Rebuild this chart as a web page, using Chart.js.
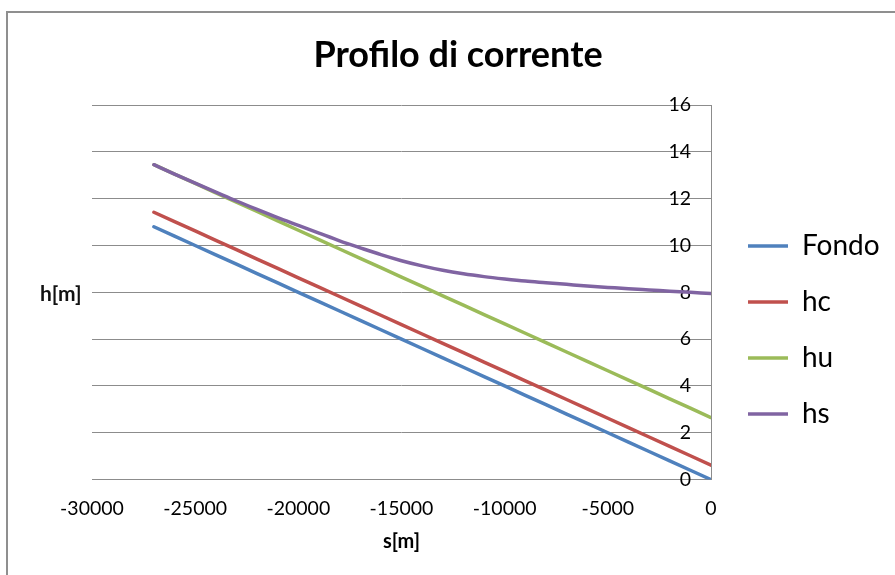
<!DOCTYPE html>
<html>
<head>
<meta charset="utf-8">
<script src="https://cdn.jsdelivr.net/npm/chart.js@4/dist/chart.umd.min.js"></script>
<style>
  html, body { margin: 0; padding: 0; background: #fff; overflow: hidden; }
  #wrap { position: relative; width: 895px; height: 575px; overflow: hidden; }
  #frame { position: absolute; left: 6px; top: 11px; width: 1000px; height: 1000px;
           border-left: 2px solid #8f8f8f; border-top: 2px solid #8f8f8f; box-sizing: border-box; }
  #c { position: absolute; left: 0; top: 0; }
  #ylab { position: absolute; left: 40px; top: 280px; font: bold 21px Lato, sans-serif; color: #111; }
</style>
</head>
<body>
<div id="wrap">
  <div id="frame"></div>
  <canvas id="c" width="895" height="575"></canvas>
  <div id="ylab">h[m]</div>
</div>
<script>
// progressive distance s [m], upstream (negative) to downstream section (0)
const distances = [-27000, -26000, -25000, -24000, -23000, -22000, -21000, -20000, -19000, -18000,
                   -17000, -16000, -15000, -14000, -13000, -12000, -11000, -10000, -9000, -8000,
                   -7000, -6000, -5000, -4000, -3000, -2000, -1000, 0];

// channel bed elevation
const fondo = [10.80, 10.40, 10.00, 9.60, 9.20, 8.80, 8.40, 8.00, 7.60, 7.20,
               6.80, 6.40, 6.00, 5.60, 5.20, 4.80, 4.40, 4.00, 3.60, 3.20,
               2.80, 2.40, 2.00, 1.60, 1.20, 0.80, 0.40, 0.00];

// critical depth line
const hc = [11.42, 11.02, 10.62, 10.22, 9.82, 9.42, 9.02, 8.62, 8.22, 7.82,
            7.42, 7.02, 6.62, 6.22, 5.82, 5.42, 5.02, 4.62, 4.22, 3.82,
            3.42, 3.02, 2.62, 2.22, 1.82, 1.42, 1.02, 0.62];

// uniform (normal) depth line
const hu = [13.45, 13.05, 12.65, 12.25, 11.85, 11.45, 11.05, 10.65, 10.25, 9.85,
            9.45, 9.05, 8.65, 8.25, 7.85, 7.45, 7.05, 6.65, 6.25, 5.85,
            5.45, 5.05, 4.65, 4.25, 3.85, 3.45, 3.05, 2.65];

// computed water surface profile
const hs = [13.45, 13.05, 12.66, 12.28, 11.90, 11.54, 11.19, 10.86, 10.53, 10.20,
            9.90, 9.61, 9.35, 9.13, 8.94, 8.79, 8.67, 8.57, 8.48, 8.41,
            8.34, 8.27, 8.21, 8.15, 8.10, 8.05, 8.00, 7.95];

const xTicks = [-30000, -25000, -20000, -15000, -10000, -5000, 0];
const yTicks = [0, 2, 4, 6, 8, 10, 12, 14, 16];

const seriesNames = ['Fondo', 'hc', 'hu', 'hs'];
const seriesValues = [fondo, hc, hu, hs];
const seriesColors = ['#4F81BD', '#C0504D', '#9BBB59', '#8064A2'];

const GRID = '#8c8c8c';
const FONT = 'Lato';

const datasets = seriesNames.map((name, i) => ({
  label: name,
  data: distances.map((s, k) => ({ x: s, y: seriesValues[i][k] })),
  borderColor: seriesColors[i],
  backgroundColor: seriesColors[i],
  borderWidth: 3.5,
  borderCapStyle: 'round',
  borderJoinStyle: 'round',
  pointRadius: 0,
  fill: false,
  cubicInterpolationMode: name === 'hs' ? 'monotone' : 'default',
  order: seriesNames.length - 1 - i   // later series painted on top
}));

// places the legend block to the right of the plot
const legendPlacer = {
  id: 'legendPlacer',
  afterLayout(chart) {
    const lg = chart.legend;
    if (!lg) return;
    lg.left = 720; lg.right = 895;
    lg.top = 204;  lg.bottom = 575;
  }
};

new Chart(document.getElementById('c'), {
  type: 'line',
  data: { datasets },
  plugins: [legendPlacer],
  options: {
    responsive: false,
    animation: false,
    parsing: false,
    layout: { padding: { left: 92, right: 71, top: 0, bottom: 21 } },
    plugins: {
      title: {
        display: true,
        text: 'Profilo di corrente',
        color: '#000',
        font: { family: FONT, weight: 'bold', size: 36 },
        padding: { top: 33.4, bottom: 28.4 }
      },
      legend: {
        position: 'chartArea',
        align: 'start',
        labels: {
          usePointStyle: true,
          pointStyle: 'line',
          pointStyleWidth: 40,
          padding: 28,
          color: '#000',
          font: { family: FONT, size: 28 },
          sort: (a, b) => a.datasetIndex - b.datasetIndex
        }
      },
      tooltip: { enabled: false }
    },
    scales: {
      x: {
        type: 'linear',
        min: xTicks[0],
        max: xTicks[xTicks.length - 1],
        afterBuildTicks: s => { s.ticks = xTicks.map(v => ({ value: v })); },
        ticks: {
          callback: v => String(v),
          autoSkip: false, maxRotation: 0,
          padding: 17,
          color: '#000',
          font: { family: FONT, size: 19.5 }
        },
        grid: { display: false, drawTicks: false },
        border: { display: true, color: GRID, width: 1 },
        title: {
          display: true, text: 's[m]', color: '#000',
          font: { family: FONT, weight: 'bold', size: 20 },
          padding: { top: -7, bottom: 0 }
        }
      },
      y: {
        position: 'right',
        min: yTicks[0],
        max: yTicks[yTicks.length - 1],
        afterBuildTicks: s => { s.ticks = yTicks.map(v => ({ value: v })); },
        afterFit: s => { s.width = 113; },
        ticks: {
          mirror: true,
          padding: -20,
          color: '#000',
          font: { family: FONT, size: 19.5 }
        },
        grid: { color: GRID, lineWidth: 1, drawTicks: false },
        border: { display: true, color: GRID, width: 1 }
      }
    }
  }
});
</script>
</body>
</html>
